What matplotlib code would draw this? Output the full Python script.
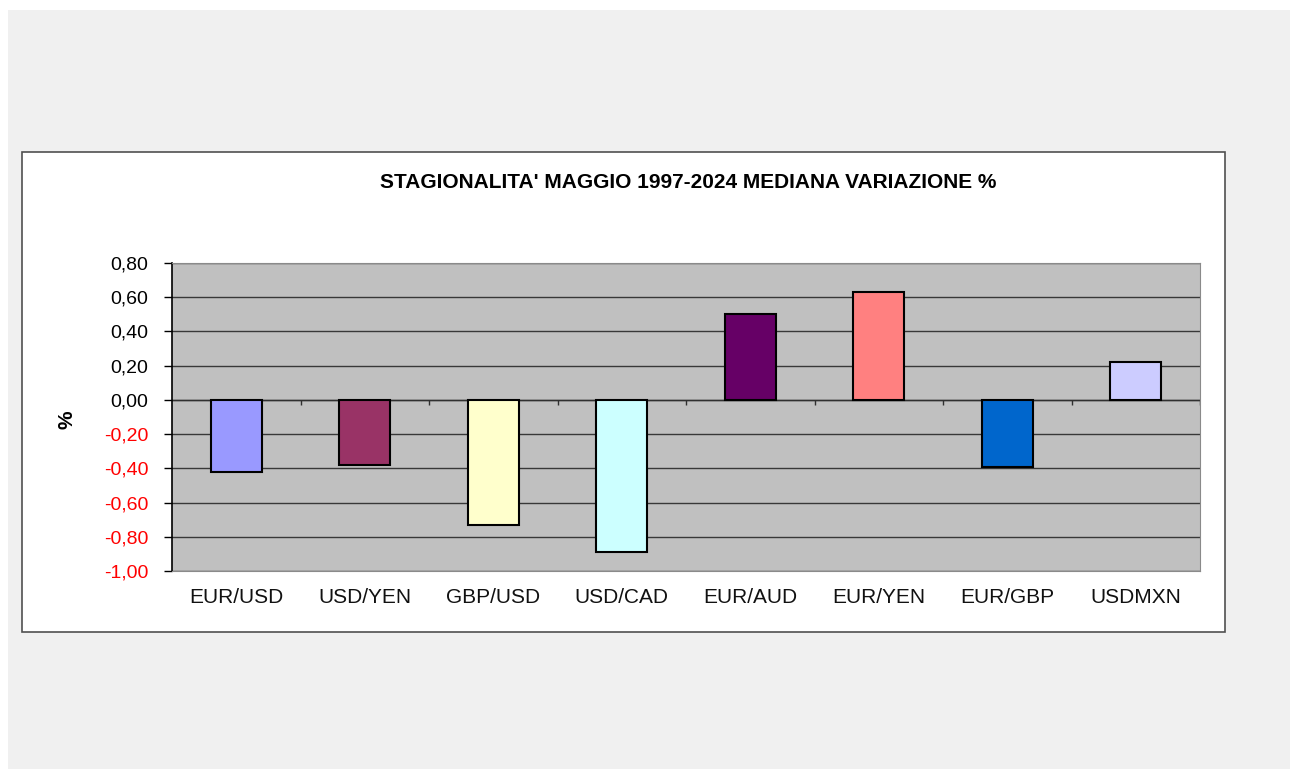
import matplotlib
matplotlib.use("Agg")
import matplotlib.pyplot as plt
from matplotlib.patches import Rectangle
from matplotlib.ticker import FuncFormatter

plt.rcParams['font.family'] = ['Liberation Sans', 'DejaVu Sans']

# dati
coppie = ['EUR/USD', 'USD/YEN', 'GBP/USD', 'USD/CAD', 'EUR/AUD', 'EUR/YEN', 'EUR/GBP', 'USDMXN']
mediana = [-0.42, -0.38, -0.73, -0.89, 0.50, 0.63, -0.39, 0.22]
colori = ['#9999FF', '#993366', '#FFFFCC', '#CCFFFF', '#660066', '#FF8080', '#0066CC', '#CCCCFF']
y_ticks = [-1.0, -0.8, -0.6, -0.4, -0.2, 0.0, 0.2, 0.4, 0.6, 0.8]

W, H = 1290, 769
fig = plt.figure(figsize=(W / 100, H / 100), dpi=100, facecolor='#f0f0f0')

# bordo bianco esterno e riquadro del grafico
fig.patches.append(Rectangle((0, 0), 8 / W, 1, transform=fig.transFigure, facecolor='white', edgecolor='none', zorder=-2))
fig.patches.append(Rectangle((0, 1 - 10 / H), 1, 10 / H, transform=fig.transFigure, facecolor='white', edgecolor='none', zorder=-2))
fig.patches.append(Rectangle((22 / W, 1 - 632 / H), (1225 - 22) / W, (632 - 152) / H,
                             transform=fig.transFigure, facecolor='white', edgecolor='#505050', lw=1.2, zorder=-1))

ax = fig.add_axes([172 / W, 1 - 571 / H, (1200 - 172) / W, (571 - 263) / H])
ax.set_facecolor('#c0c0c0')

x = list(range(len(coppie)))
ax.bar(x, mediana, width=0.4, color=colori, edgecolor='black', linewidth=1.5, zorder=3)

ax.set_xlim(-0.5, len(coppie) - 0.5)
ax.set_ylim(-1.0, 0.8)
ax.set_yticks(y_ticks)
ax.yaxis.set_major_formatter(FuncFormatter(lambda v, p: f'{v:.2f}'.replace('.', ',').replace('-0,00', '0,00')))
ax.tick_params(axis='y', length=6, width=1, pad=11, labelsize=14)
for lab, v in zip(ax.get_yticklabels(), y_ticks):
    lab.set_color('red' if v < -0.001 else 'black')

ax.set_xticks(x)
ax.set_xticklabels(coppie, fontsize=15, color='#111111')
ax.tick_params(axis='x', length=0, pad=12)

ax.yaxis.grid(True, color='#383838', linewidth=1, zorder=1)
ax.set_axisbelow(True)

# asse dello zero con tacche tra le categorie
ax.axhline(0, color='#303030', linewidth=1, zorder=2)
confini = [i + 0.5 for i in x[:-1]] + [len(coppie) - 0.5]
ax.vlines(confini, -0.03, 0, color='#303030', linewidth=1, zorder=2)

for s in ['top', 'right', 'bottom']:
    ax.spines[s].set_color('#8a8a8a')
ax.spines['left'].set_color('black')
ax.spines['left'].set_linewidth(1.2)

ax.set_ylabel('%', fontsize=15, fontweight='bold')
ax.yaxis.set_label_coords(-0.093, 0.49)

fig.text(688 / W, 1 - 183 / H, "STAGIONALITA' MAGGIO 1997-2024 MEDIANA VARIAZIONE %",
         ha='center', va='center', fontsize=15, fontweight='bold')

fig.savefig('out.png', dpi=100, facecolor=fig.get_facecolor())
